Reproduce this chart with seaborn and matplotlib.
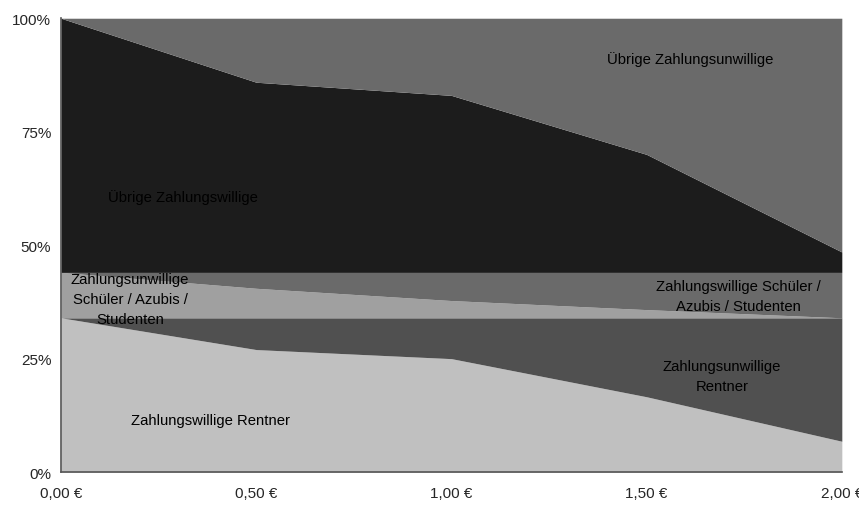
import matplotlib
matplotlib.use("Agg")
import matplotlib.pyplot as plt
import seaborn as sns
import pandas as pd

# price steps (EUR)
prices = [0.0, 0.5, 1.0, 1.5, 2.0]
price_labels = ["0,00 €", "0,50 €", "1,00 €", "1,50 €", "2,00 €"]

# shares in percent, stacked from bottom to top
rentner_willig = [34.0, 27.0, 25.0, 16.6, 6.8]
rentner_unwillig = [0.0, 7.0, 9.0, 17.4, 27.2]
schueler_willig = [10.0, 6.5, 3.8, 1.8, 0.0]
schueler_unwillig = [0.0, 3.5, 6.2, 8.2, 10.0]
uebrige_willig = [56.0, 41.9, 39.0, 26.0, 4.5]
uebrige_unwillig = [0.0, 14.1, 17.0, 30.0, 51.5]

colors = ["#c0c0c0", "#505050", "#a0a0a0", "#6a6a6a", "#1c1c1c", "#6a6a6a"]

df = pd.DataFrame({
    "price": prices,
    "rw": rentner_willig,
    "ru": rentner_unwillig,
    "sw": schueler_willig,
    "su": schueler_unwillig,
    "uw": uebrige_willig,
    "uu": uebrige_unwillig,
})

sns.set_style("white")
plt.rcParams["font.family"] = ["Liberation Sans", "DejaVu Sans"]

fig = plt.figure(figsize=(8.59, 5.06), dpi=100)
ax = fig.add_axes([0.071, 0.065, 0.909, 0.897])

ax.stackplot(df["price"], df["rw"], df["ru"], df["sw"], df["su"], df["uw"], df["uu"],
             colors=colors, linewidth=0)

ax.set_xlim(0, 2)
ax.set_ylim(0, 100)
ax.set_xticks(prices)
ax.set_xticklabels(price_labels, fontsize=11)
ax.set_yticks([0, 25, 50, 75, 100])
ax.set_yticklabels(["0%", "25%", "50%", "75%", "100%"], fontsize=11)
ax.tick_params(axis="both", direction="out", length=4, width=1, color="#555555", pad=3)
ax.tick_params(axis="x", pad=6)
for side in ["top", "right"]:
    ax.spines[side].set_visible(False)
for side in ["left", "bottom"]:
    ax.spines[side].set_color("#555555")
    ax.spines[side].set_linewidth(1.2)

# area labels
fs = 10.7
tc = "#000000"
ls = 1.55
ax.text(1.611, 91.2, "Übrige Zahlungsunwillige", ha="center", va="center", fontsize=fs, color=tc)
ax.text(0.312, 60.8, "Übrige Zahlungswillige", ha="center", va="center", fontsize=fs, color=tc)
ax.text(0.177, 38.1, "Zahlungsunwillige\nSchüler / Azubis /\nStudenten", ha="center", va="center",
        fontsize=fs, color=tc, linespacing=ls)
ax.text(1.736, 38.8, "Zahlungswillige Schüler /\nAzubis / Studenten", ha="center", va="center",
        fontsize=fs, color=tc, linespacing=ls)
ax.text(1.693, 21.1, "Zahlungsunwillige\nRentner", ha="center", va="center", fontsize=fs,
        color=tc, linespacing=ls)
ax.text(0.382, 11.5, "Zahlungswillige Rentner", ha="center", va="center", fontsize=fs, color=tc)

fig.savefig("out.png", dpi=100)
